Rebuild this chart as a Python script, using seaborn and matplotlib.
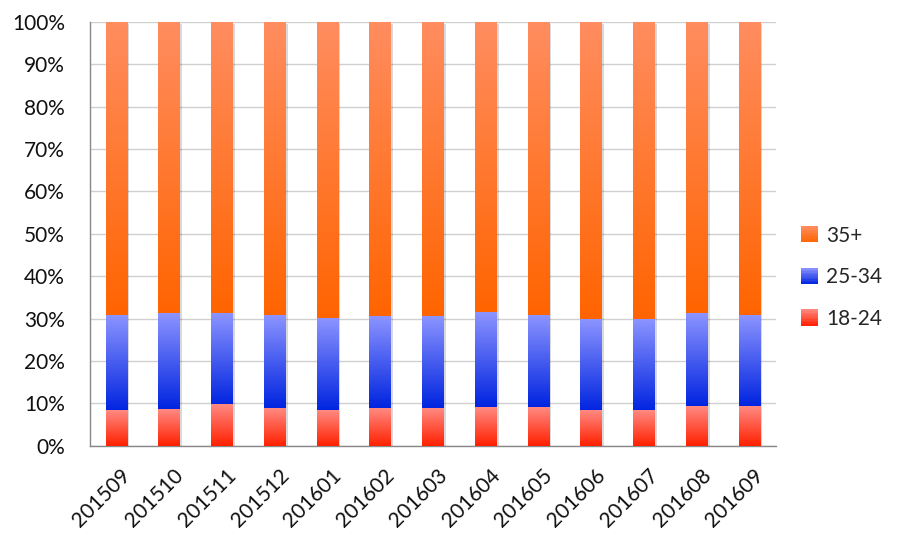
import numpy as np
import pandas as pd
import matplotlib
matplotlib.use("Agg")
import matplotlib.pyplot as plt
import seaborn as sns
from matplotlib.colors import LinearSegmentedColormap
from matplotlib.patches import Patch, Rectangle
from matplotlib.legend_handler import HandlerBase
import matplotlib.patheffects as pe
import matplotlib.transforms as mtransforms

months = ["201509", "201510", "201511", "201512", "201601", "201602", "201603",
          "201604", "201605", "201606", "201607", "201608", "201609"]
share_18_24 = [8.3, 8.6, 9.7, 8.9, 8.4, 8.9, 8.9, 9.1, 9.1, 8.3, 8.3, 9.4, 9.4]
share_25_34 = [22.5, 22.5, 21.7, 21.8, 21.6, 21.5, 21.6, 22.3, 21.6, 21.5, 21.5, 21.8, 21.3]
share_35_plus = [100 - a - b for a, b in zip(share_18_24, share_25_34)]
series_names = ["35+", "25-34", "18-24"]

df = pd.DataFrame({"month": months, "18-24": share_18_24,
                   "25-34": share_25_34, "35+": share_35_plus})
df["cum_red"] = df["18-24"]
df["cum_blue"] = df["18-24"] + df["25-34"]
df["cum_orange"] = df["cum_blue"] + df["35+"]

# gradients (bottom colour, top colour)
grads = {
    "35+": ("#ff6400", "#ff8d60"),
    "25-34": ("#0024e0", "#8c94ff"),
    "18-24": ("#ff2000", "#ff8a82"),
}
cmaps = {n: LinearSegmentedColormap.from_list(n, list(grads[n])) for n in grads}
mid = {"35+": "#ff7a3a", "25-34": "#4a5cf0", "18-24": "#ff5a48"}

sns.set_style("white")
plt.rcParams["font.family"] = ["Lato", "DejaVu Sans"]
FS = 15

fig = plt.figure(figsize=(9, 5.6), dpi=100)
ax = fig.add_axes([0.1, 0.204, 0.762, 0.757])

bar_w = 0.41
layers = [("35+", "cum_orange", "cum_blue"),
          ("25-34", "cum_blue", "cum_red"),
          ("18-24", "cum_red", None)]
for name, col, _ in layers:
    sns.barplot(data=df, x="month", y=col, color=mid[name], width=bar_w,
                ax=ax, saturation=1, edgecolor="none", zorder=3)

shadow = [pe.SimplePatchShadow(offset=(1.5, -1.5), shadow_rgbFace="#000000", alpha=0.15), pe.Normal()]
grad = np.linspace(0, 1, 256).reshape(-1, 1)
for (name, col, below), cont in zip(layers, ax.containers):
    for i, p in enumerate(cont.patches):
        x0 = p.get_x()
        x1 = x0 + p.get_width()
        top = p.get_height()
        bot = df[below].iloc[i] if below else 0.0
        if name == "35+":
            p.set_path_effects(shadow)
        ax.imshow(grad, cmap=cmaps[name], aspect="auto", origin="lower",
                  extent=(x0, x1, bot, top), zorder=4, interpolation="bilinear")

ax.set_xlim(-0.5, len(months) - 0.5)
ax.set_ylim(0, 100)
ax.set_xlabel("")
ax.set_ylabel("")

ax.set_yticks(np.arange(0, 101, 10))
ax.set_yticklabels([f"{v}%" for v in range(0, 101, 10)], fontsize=FS, color="#111111")
ax.yaxis.grid(True, color="#d0d0d0", linewidth=1, zorder=0)
ax.set_axisbelow(True)

ax.set_xticks(range(len(months)))
ax.set_xticklabels(months, rotation=45, ha="right", rotation_mode="anchor",
                   fontsize=FS, color="#111111")
ax.tick_params(axis="x", length=0, pad=14)
shift = mtransforms.ScaledTranslation(4 / 100, 0, fig.dpi_scale_trans)
for lab in ax.get_xticklabels():
    lab.set_transform(lab.get_transform() + shift)
ax.set_xticks(np.arange(-0.5, len(months), 1), minor=True)
ax.tick_params(axis="x", which="minor", length=6, color="#888888", width=1, direction="out")
ax.tick_params(axis="y", length=7, color="#888888", width=1, direction="out", pad=11)

for s in ["top", "right"]:
    ax.spines[s].set_visible(False)
for s in ["left", "bottom"]:
    ax.spines[s].set_color("#888888")
    ax.spines[s].set_linewidth(1)


class GradientHandler(HandlerBase):
    def __init__(self, cmap):
        super().__init__()
        self.cmap = cmap

    def create_artists(self, legend, orig_handle, xdescent, ydescent, width,
                       height, fontsize, trans):
        n = 10
        arts = []
        for k in range(n):
            r = Rectangle((-xdescent, -ydescent + height * k / n), width, height / n + 0.3,
                          facecolor=self.cmap((k + 0.5) / n), edgecolor="none",
                          transform=trans)
            arts.append(r)
        return arts


handles = [Patch(facecolor=mid[n], edgecolor="none", label=n) for n in series_names]
fig.legend(handles=handles, loc="center left", bbox_to_anchor=(0.869, 0.505),
           frameon=False, fontsize=FS, handlelength=0.8, handleheight=0.8,
           labelspacing=1.04, handletextpad=0.4,
           handler_map={h: GradientHandler(cmaps[n]) for h, n in zip(handles, series_names)})

fig.savefig("out.png", dpi=100, facecolor="white")
